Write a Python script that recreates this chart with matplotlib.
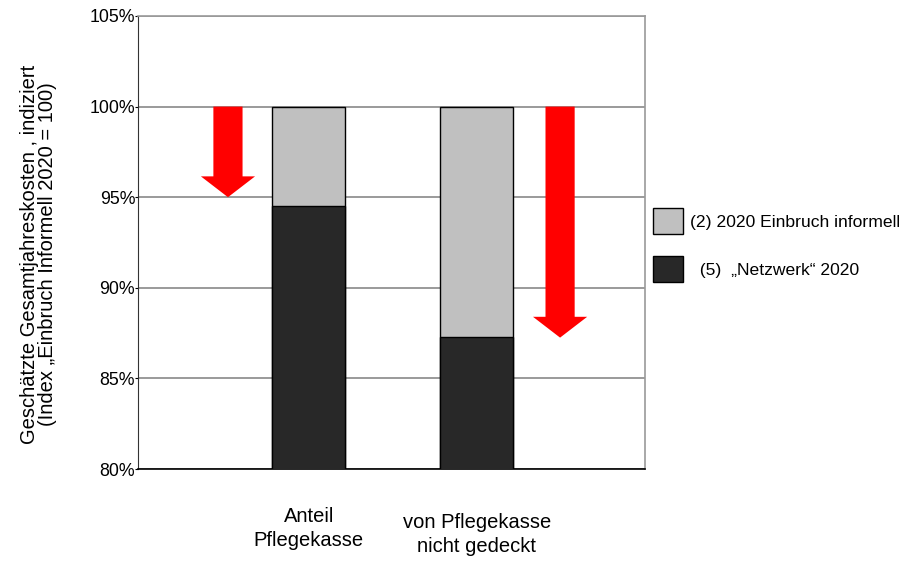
import matplotlib
matplotlib.use('Agg')
import matplotlib.pyplot as plt
from matplotlib.patches import FancyArrowPatch, Patch

plt.rcParams.update({
    'font.family': ['Liberation Sans', 'DejaVu Sans'],
    'font.size': 12.5,
})

# data
categories = ['Anteil\nPflegekasse', 'von Pflegekasse\nnicht gedeckt']
series_names = ['(2) 2020 Einbruch informell', '  (5)  \u201eNetzwerk\u201c 2020']
informell = [100.0, 100.0]
netzwerk = [94.5, 87.3]
arrow_x = [0.52, 2.495]
arrow_start = [100.0, 100.0]
arrow_end = [95.0, 87.25]
yticks = [80, 85, 90, 95, 100, 105]

fig = plt.figure(figsize=(9.05, 5.61), dpi=100)
ax = fig.add_axes([138 / 905, 1 - 469 / 561, 507 / 905, 453 / 561])

xpos = [1, 2]
ax.bar(xpos, informell, width=0.434, color='#c0c0c0', edgecolor='black', lw=1.0, zorder=3)
ax.bar(xpos, netzwerk, width=0.434, color='#282828', edgecolor='black', lw=1.0, zorder=4)

for x, y0, y1 in zip(arrow_x, arrow_start, arrow_end):
    arr = FancyArrowPatch((x, y0), (x, y1),
                          arrowstyle='simple,head_length=15,head_width=39,tail_width=21',
                          mutation_scale=1, shrinkA=0, shrinkB=0,
                          color='#ff0000', lw=0, zorder=5)
    ax.add_patch(arr)

ax.set_xlim(-0.015, 3)
ax.set_ylim(80, 105)
ax.set_yticks(yticks)
ax.set_yticklabels([f'{t}%' for t in yticks])
ax.set_xticks([])
ax.tick_params(axis='y', length=2, width=0.8, pad=0, labelsize=12.8)

ax.grid(axis='y', color='#7f7f7f', lw=1.1, zorder=1)
ax.set_axisbelow(True)
for s in ['top', 'right']:
    ax.spines[s].set_color('#9a9a9a')
    ax.spines[s].set_linewidth(1.2)
ax.spines['left'].set_color('#333333')
ax.spines['bottom'].set_color('black')
ax.spines['bottom'].set_linewidth(1.2)

# category labels under the bars
label_y = [-0.083, -0.097]
for x, lab, ly in zip(xpos, categories, label_y):
    ax.text(x, ly, lab, transform=ax.get_xaxis_transform(), ha='center', va='top',
            fontsize=14.5, linespacing=1.33)

ax.set_ylabel('Geschätzte Gesamtjahreskosten , indiziert\n(Index \u201eEinbruch Informell 2020 = 100)',
              fontsize=14.5, linespacing=0.95)
ax.yaxis.set_label_coords(-0.16, 0.4735)

handles = [Patch(facecolor='#c0c0c0', edgecolor='black', lw=1.0),
           Patch(facecolor='#282828', edgecolor='black', lw=1.0)]
fig.legend(handles, series_names, loc='upper left', bbox_to_anchor=(653 / 905, 1 - 208 / 561),
           frameon=False, borderpad=0, borderaxespad=0, handlelength=1.71, handleheight=1.9,
           labelspacing=1.29, handletextpad=0.4, fontsize=12.6)

fig.savefig('out.png', dpi=100)
